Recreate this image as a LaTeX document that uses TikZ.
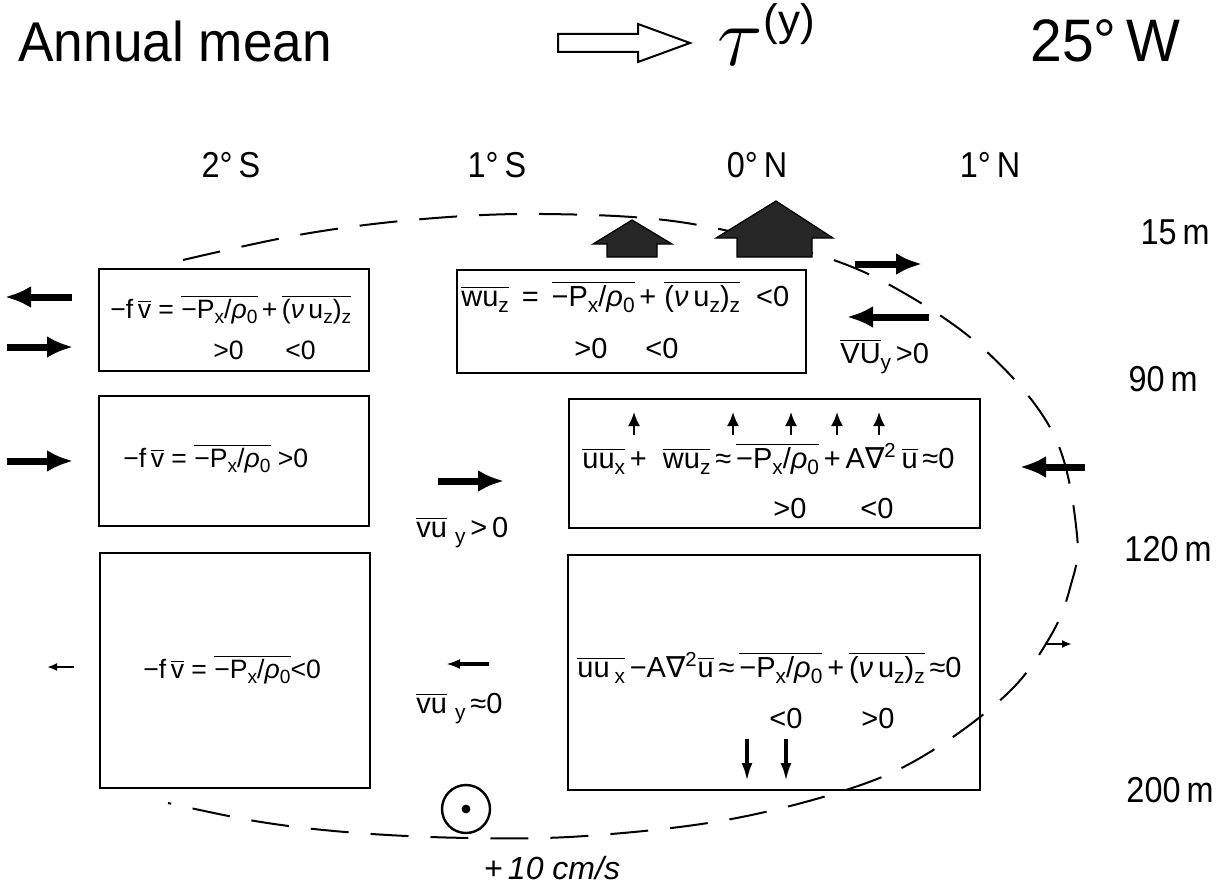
\documentclass[tikz,border=0pt]{standalone}
\usepackage{graphicx}
\usepackage{fontspec}
\setmainfont{Liberation Sans}
\newfontfamily\titlefont[FakeStretch=0.95]{Liberation Sans}
\newfontfamily\condfont[FakeStretch=0.9]{Liberation Sans}
\newfontfamily\symfont{DejaVu Sans}
\usetikzlibrary{arrows.meta}

% overlined terms and lowered subscripts
\newcommand\ovl[1]{\ensuremath{\overline{\mbox{#1}}}}
\newcommand\sbx[1]{\raisebox{-0.22em}{\scalebox{0.72}{#1}}}
\newcommand\nab{{\symfont ∇}}
\newcommand\pgrad{\ovl{−P\sbx{x}/\textit{ρ}\sbx{0}}}
\newcommand\vfric{\ovl{(\textit{ν}\,u\sbx{z})\sbx{z}}}

\tikzset{
  eqbox/.style={draw, line width=1pt},
  eqline/.style={anchor=base west, inner sep=0pt, font=\fontsize{13.3}{16}\selectfont},
  eqwide/.style={anchor=base west, inner sep=0pt, font=\fontsize{14.5}{17}\selectfont},
  tag/.style={inner sep=0pt, font=\condfont\fontsize{18}{20}\selectfont},
  bigflow/.style={line width=3.5pt, -{Latex[length=13pt,width=11pt]}},
  midflow/.style={line width=2pt, -{Latex[length=7pt,width=5pt]}},
  tinyflow/.style={line width=1.2pt, -{Latex[length=5pt,width=4pt]}},
  upflow/.style={line width=1pt, -{Latex[length=7pt,width=6pt]}},
  downflow/.style={line width=1.6pt, -{Latex[length=9pt,width=5.5pt]}},
  cell/.style={line width=1pt, dash pattern=on 19pt off 11pt},
  house/.style={fill=black!85, draw=black, line width=0.6pt}
}

\begin{document}
\begin{tikzpicture}[x=0.5pt,y=-0.5pt]
    \useasboundingbox (0,0) rectangle (1224,888);

    % Header
    \node[anchor=base west, inner sep=0pt, font=\titlefont\fontsize{28}{32}\selectfont] (title) at (18,62) {Annual mean};
    \node[anchor=base west, inner sep=0pt, font=\titlefont\fontsize{30}{34}\selectfont] (lon) at (1030,62) {25°\,W};
    \draw[line width=1pt] (558,34) -- (638,34) -- (638,24) -- (690,43) -- (638,62) -- (638,52) -- (558,52) -- cycle;
    \node[anchor=base, inner sep=0pt] (tau) at (740,66) {\scalebox{1.7}{\fontsize{24}{28}\selectfont$\tau$}};
    \node[anchor=base west, inner sep=0pt, font=\fontsize{22}{26}\selectfont] (tauy) at (763,36) {(y)};

    % Latitudes and depths
    \node[tag] (s2) at (231,165) {2°\,S};
    \node[tag] (s1) at (497,165) {1°\,S};
    \node[tag] (n0) at (757,165) {0°\,N};
    \node[tag] (n1) at (990,165) {1°\,N};
    \node[tag] (d15) at (1175,232) {15\,m};
    \node[tag] (d90) at (1163,379) {90\,m};
    \node[tag] (d120) at (1168,549) {120\,m};
    \node[tag] (d200) at (1170,790) {200\,m};

    % Circulation cell
    \draw[cell] plot[smooth, tension=0.6] coordinates {(183,260) (304,234) (423,219) (543,214) (680,222) (812,253) (897,289) (986,351) (1054,435) (1077,535) (1070,588) (1050,637) (1008,693) (930,752) (852,788) (726,820) (585,836) (471,838) (358,833) (261,822) (168,803)};

    % Upwelling
    \filldraw[house] (607,257) -- (607,244) -- (593,244) -- (632,220) -- (672,244) -- (657,244) -- (657,257) -- cycle;
    \filldraw[house] (737,257) -- (737,238) -- (716,238) -- (776,201) -- (833,238) -- (812,238) -- (812,257) -- cycle;

    % Boxes
    \draw[eqbox] (99,269) rectangle (369,371);
    \draw[eqbox] (457,270) rectangle (806,373);
    \draw[eqbox] (99,396) rectangle (369,526);
    \draw[eqbox] (569,399) rectangle (980,528);
    \draw[eqbox] (100,553) rectangle (370,788);
    \draw[eqbox] (568,555) rectangle (980,790);

    % Balances
    \node[eqline] (b1) at (110,318) {−f\,\ovl{v} = \pgrad\,+\,\vfric};
    \node[eqline] (b1a) at (213,359) {>0};
    \node[eqline] (b1b) at (285,359) {<0};
    \node[eqwide] (b2) at (461,306) {\ovl{wu\sbx{z}}\, = \,\pgrad\,+\;\vfric\;\;<0};
    \node[eqwide] (b2a) at (574,358) {>0};
    \node[eqwide] (b2b) at (645,358) {<0};
    \node[eqline] (b3) at (123,467) {−f\,\ovl{v} = \pgrad\;>0};
    \node[eqwide] (b4) at (582,468) {\ovl{uu\sbx{x}}\,+\;\;\ovl{wu\sbx{z}}\,≈\,\pgrad\,+\,A\nab\textsuperscript{2}\,\ovl{u}\,≈0};
    \node[eqwide] (b4a) at (773,518) {>0};
    \node[eqwide] (b4b) at (860,518) {<0};
    \node[eqline] (b5) at (143,678) {−f\,\ovl{v} = \pgrad<0};
    \node[eqwide] (b6) at (577,677) {\ovl{uu\,\sbx{x}}\,−A\nab\textsuperscript{2}\ovl{u}\,≈\,\pgrad\,+\,\vfric\,≈0};
    \node[eqwide] (b6a) at (769,728) {<0};
    \node[eqwide] (b6b) at (861,728) {>0};

    % Flux labels
    \node[eqwide] (vuy1) at (840,363) {\ovl{VU}\sbx{y}\,>0};
    \node[eqwide] (vuy2) at (416,537) {\ovl{vu}\;\sbx{y}\,>\,0};
    \node[eqwide] (vuy3) at (416,713) {\ovl{vu}\;\sbx{y}\,≈0};

    % Zonal flow arrows
    \draw[bigflow] (72,297) -- (5,297);
    \draw[bigflow] (7,347) -- (73,347);
    \draw[bigflow] (7,461) -- (73,461);
    \draw[bigflow] (438,481) -- (504,481);
    \draw[bigflow] (855,264) -- (922,264);
    \draw[bigflow] (929,317) -- (847,317);
    \draw[bigflow] (1085,467) -- (1020,467);
    \draw[midflow] (489,664) -- (446,664);
    \draw[tinyflow] (74,667) -- (47,667);
    \draw[tinyflow] (1045,644) -- (1072,644);

    % Vertical flow
    \foreach \x in {634,733,791,837,879}
        \draw[upflow] (\x,435) -- (\x,412);
    \foreach \x in {747,786}
        \draw[downflow] (\x,739) -- (\x,781);

    % Undercurrent core
    \draw[line width=1.2pt] (466,809) circle (12pt);
    \fill (466,809) circle (2.2pt);
    \node[inner sep=0pt, font=\itshape\fontsize{16}{18}\selectfont] (core) at (552,868) {+\,10 cm/s};
\end{tikzpicture}
\end{document}
